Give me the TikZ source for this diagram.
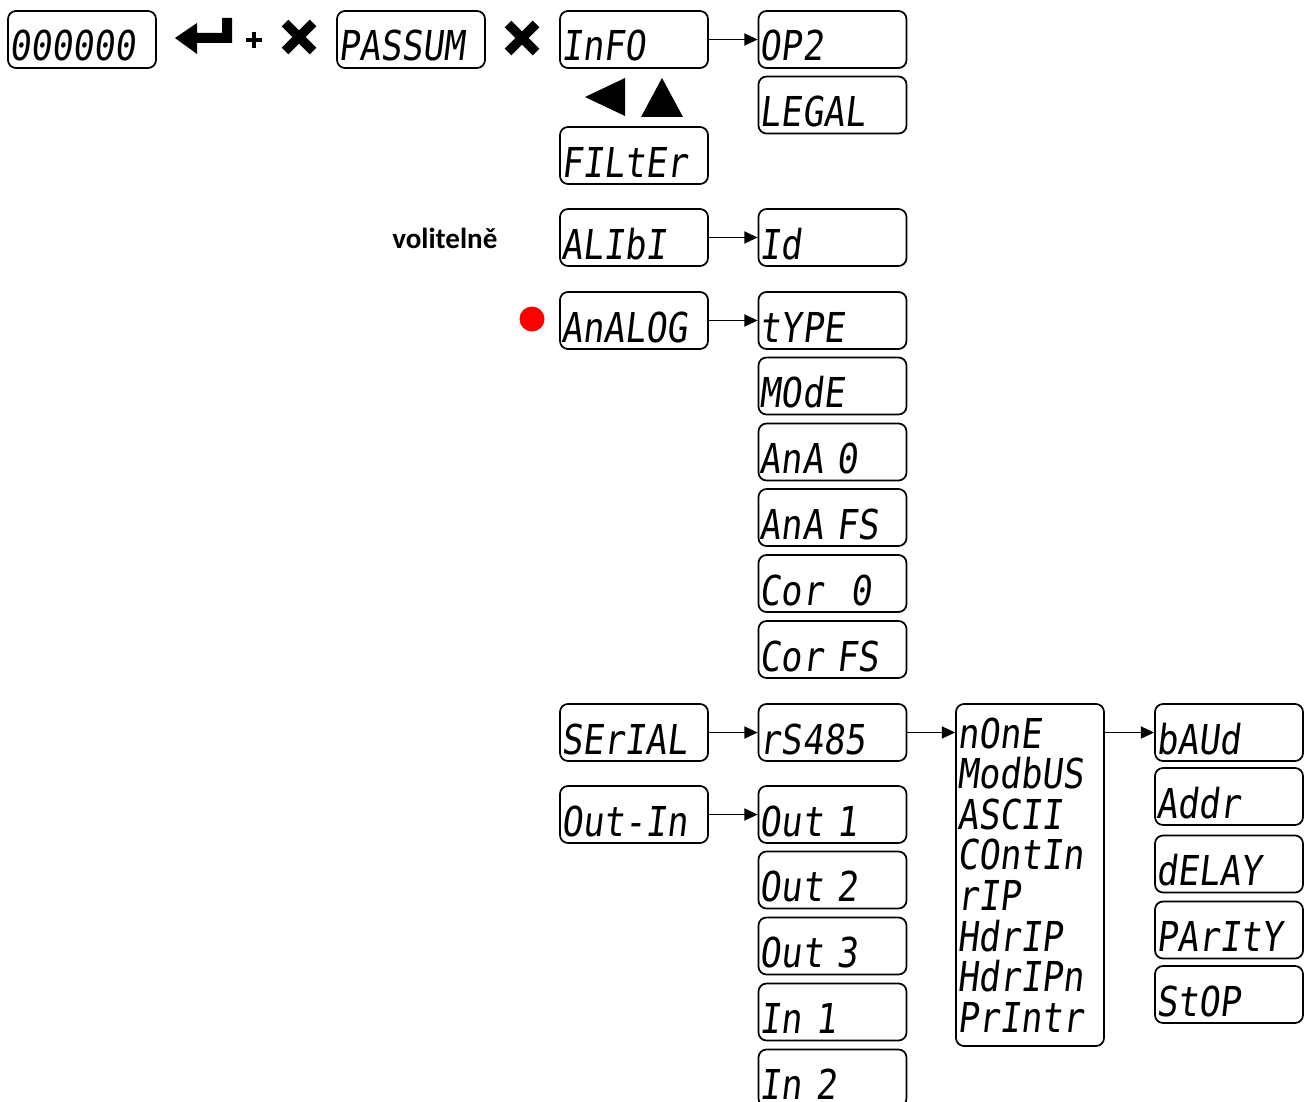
\documentclass[tikz,border=0pt]{standalone}
\usepackage{fontspec}
\usetikzlibrary{arrows.meta}
\newfontfamily\lcdfont[FakeSlant=0.12,FakeStretch=0.85]{DejaVu Sans Mono}
\newfontfamily\notefont{Carlito}
\tikzset{
  lcd/.style={draw, line width=1.3pt, rounded corners=6pt, inner xsep=1pt, inner ysep=0pt,
    text width=109pt, minimum height=42.75pt, align=left, text height=32.25pt, text depth=0pt,
    font={\lcdfont\fontsize{30.9pt}{30.45pt}\selectfont}},
  lcdlist/.style={lcd, minimum height=256.5pt, text height=, text depth=},
  arr/.style={line width=1.4pt, -{Triangle[length=10pt,width=9pt]}},
  cross/.style={line width=7pt}
}
\begin{document}
\begin{tikzpicture}[x=0.75pt,y=-0.75pt]
      \useasboundingbox (0,0) rectangle (1306,1102);
      \node[lcd] (code) at (82,39.5) {000000};
      \fill (175,38) -- (197,23) -- (197,33) -- (222,33) -- (222,18) -- (232,18)
        -- (232,43) -- (197,43) -- (197,54) -- cycle;
      \draw[line width=2.4pt] (246,40) -- (262,40) (254,32) -- (254,48);
      \draw[cross] (285,23) -- (313,51) (285,51) -- (313,23);
      \node[lcd] (pass) at (411,39.5) {PASSUM};
      \draw[cross] (508,24) -- (536,52) (508,52) -- (536,24);
      \node[lcd] (info) at (634,39.5) {InFO};
      \fill (585,97) -- (625,78) -- (625,116) -- cycle;
      \fill (662,78) -- (683,117) -- (641,117) -- cycle;
      \node[lcd] (filter) at (634,155.5) {FILtEr};
      \node[lcd] (alibi) at (634,237.5) {ALIbI};
      \node[lcd] (analog) at (634,320.5) {AnALOG};
      \node[lcd] (serial) at (634,732.5) {SErIAL};
      \node[lcd] (outin) at (634,814.5) {Out-In};
      \node[font={\notefont\bfseries\fontsize{21.8pt}{26pt}\selectfont}, anchor=base west, inner sep=0pt]
        (opt) at (392,248) {volitelně};
      \fill[red] (532,319) circle (12.5);
      \node[lcd] (op2) at (832.5,39.5) {OP2};
      \node[lcd] (legal) at (832.5,105) {LEGAL};
      \node[lcd] (id) at (832.5,237.5) {Id};
      \node[lcd] (type) at (832.5,320.5) {tYPE};
      \node[lcd] (mode) at (832.5,386) {MOdE};
      \node[lcd] (anazero) at (832.5,452) {AnA~0};
      \node[lcd] (anafs) at (832.5,517.5) {AnA~FS};
      \node[lcd] (corzero) at (832.5,583.5) {Cor~~0};
      \node[lcd] (corfs) at (832.5,649.5) {Cor~FS};
      \node[lcd] (rs) at (832.5,732.5) {rS485};
      \node[lcd] (outone) at (832.5,814.5) {Out~1};
      \node[lcd] (outtwo) at (832.5,880) {Out~2};
      \node[lcd] (outthree) at (832.5,946) {Out~3};
      \node[lcd] (inone) at (832.5,1012) {In~1};
      \node[lcd] (intwo) at (832.5,1078) {In~2};
      \node[lcdlist] (proto) at (1030,875) {nOnE\\ModbUS\\ASCII\\COntIn\\rIP\\HdrIP\\HdrIPn\\PrIntr};
      \node[lcd] (baud) at (1229,732.5) {bAUd};
      \node[lcd] (addr) at (1229,796.5) {Addr};
      \node[lcd] (delay) at (1229,864) {dELAY};
      \node[lcd] (parity) at (1229,930) {PArItY};
      \node[lcd] (stop) at (1229,994.5) {StOP};
      \draw[arr] (info) -- (op2);
      \draw[arr] (alibi) -- (id);
      \draw[arr] (analog) -- (type);
      \draw[arr] (serial) -- (rs);
      \draw[arr] (rs) -- (rs -| proto.west);
      \draw[arr] (proto.east |- baud) -- (baud);
      \draw[arr] (outin) -- (outone);
    \end{tikzpicture}
\end{document}
